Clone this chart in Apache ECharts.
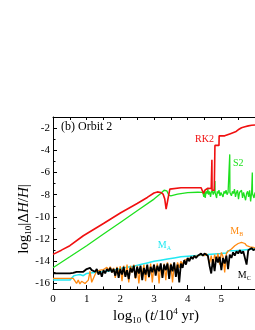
<!DOCTYPE html>
<html><head><meta charset="utf-8">
<script src="https://cdn.jsdelivr.net/npm/echarts@6/dist/echarts.min.js"></script>
<style>html,body{margin:0;padding:0;background:#fff}#c{width:255px;height:330px}</style>
</head><body><div id="c"></div>
<script>
// ---- data (log10 t/10^4 yr  vs  log10 |dH/H|) ----
const rk2X = [0,0.25,0.5,0.9,1.5,2.0,2.5,2.8,3.0,3.1,3.2,3.27,3.32,3.36,3.38,3.42,3.47,3.5,3.8,4.1,4.4,4.44,4.47,4.49,4.51,4.54,4.6,4.7,4.715,4.72,4.725,4.75,4.79,4.805,4.81,4.93,4.935,5.1,5.105,5.27,5.275,5.44,5.5,5.55,5.6,5.7,5.8,5.9,6.0];
const rk2Y = [-13.38,-13.0,-12.6,-11.7,-10.6,-9.65,-8.8,-8.25,-7.85,-7.75,-7.8,-7.95,-8.4,-9.3,-9.3,-8.3,-7.5,-7.4,-7.38,-7.37,-7.37,-7.45,-7.9,-7.95,-7.6,-7.42,-7.42,-7.45,-7.6,-4.85,-7.6,-7.55,-7.6,-7.7,-3.56,-3.56,-2.7,-2.7,-2.55,-2.5,-2.4,-2.3,-2.15,-2.05,-1.97,-1.88,-1.8,-1.75,-1.72];

const s2X = [0,0.5,1.0,1.5,2.0,2.5,3.0,3.2,3.3,3.34,3.38,3.44,3.5,3.7,4.0,4.3,4.45,
  4.48,4.5,4.52,4.55,4.58,4.6,4.62,4.65,4.68,4.7,4.73,4.76,4.79,4.805,4.81,4.815,4.83,4.86,4.88,4.9,
  4.93,4.96,4.99,5.02,5.05,5.08,5.11,5.14,5.17,5.2,5.23,5.245,5.25,5.255,5.27,5.3,5.33,5.36,5.39,5.42,
  5.45,5.48,5.51,5.54,5.57,5.6,5.63,5.66,5.69,5.72,5.75,5.78,5.81,5.84,5.87,5.9,5.915,5.92,5.925,5.94,5.97,6.0];
const s2Y = [-14.58,-13.6,-12.6,-11.55,-10.5,-9.45,-8.4,-7.9,-7.6,-7.48,-7.65,-8.05,-8.1,-7.95,-7.82,-7.78,-7.8,
  -8.2,-7.6,-8.3,-7.7,-7.9,-7.5,-8.0,-7.7,-8.2,-7.8,-7.6,-8.0,-7.7,-7.8,-6.77,-7.8,-7.8,-8.3,-7.7,-7.9,
  -7.6,-8.1,-7.8,-7.7,-8.2,-7.7,-7.9,-7.6,-8.0,-7.8,-7.7,-7.8,-4.37,-7.8,-7.8,-8.1,-7.7,-7.9,-7.5,-8.2,
  -7.8,-7.6,-8.4,-7.8,-7.9,-7.6,-8.3,-7.8,-7.7,-8.5,-7.9,-7.7,-8.2,-7.6,-8.6,-7.8,-7.9,-6.0,-7.9,-7.9,-8.3,-7.8];

const maX = [0,0.5,0.55,0.62,0.7,0.8,0.9,1.0,1.1,1.3,1.5,1.7,1.9,2.0,2.2,2.4,2.6,2.8,3.0,3.2,3.4,3.6,3.8,4.0,4.2,4.4,4.6,4.8,5.0,5.15,5.2,5.4,5.6,5.8,6.0];
const maY = [-15.7,-15.7,-15.65,-15.3,-15.25,-15.2,-15.3,-15.1,-15.05,-15.0,-14.95,-14.85,-14.75,-14.65,-14.55,-14.45,-14.3,-14.15,-14.0,-13.9,-13.8,-13.7,-13.6,-13.55,-13.5,-13.45,-13.4,-13.35,-13.3,-13.25,-13.05,-13.05,-13.0,-12.95,-12.9];

const lowX = [0,0.5,0.55,0.6,0.65,0.7,0.75,0.8,0.85,0.9,0.95,1.0,
  1.05,1.1,1.15,1.2,1.25,1.3,1.35,1.4,1.45,1.5,1.55,1.6,1.65,1.7,1.75,1.8,1.85,1.9,1.95,2.0,
  2.05,2.1,2.15,2.2,2.25,2.3,2.35,2.4,2.45,2.5,2.55,2.6,2.65,2.7,2.75,2.8,2.85,2.9,2.95,3.0,
  3.05,3.1,3.15,3.2,3.25,3.3,3.35,3.4,3.45,3.5,3.55,3.6,3.65,3.7,3.75,3.8,3.85,3.9,3.95,4.0,
  4.05,4.1,4.15,4.2,4.25,4.3,4.35,4.4,4.45,4.5,4.55,4.6,4.65,4.7,4.75,4.8,4.85,4.9,4.95,5.0,
  5.05,5.1,5.15,5.2,5.25,5.3,5.35,5.4,5.45,5.5,5.55,5.6,5.65,5.7,5.75,5.8,5.85,5.9,5.95,6.0];
const mcY = [-15.1,-15.1,-15.1,-15.05,-15.0,-14.95,-14.9,-14.95,-15.0,-14.95,-14.8,-14.7,
  -14.85,-14.6,-14.8,-14.7,-14.95,-14.7,-15.2,-14.9,-15.4,-14.8,-15.1,-14.7,-14.9,-14.6,-15.0,-14.7,-15.3,-14.6,-15.5,-14.7,
  -15.2,-14.5,-15.4,-14.8,-15.6,-14.6,-15.0,-14.4,-15.5,-14.5,-15.1,-14.4,-15.7,-14.6,-15.2,-14.3,-15.4,-14.5,-15.0,-14.3,
  -15.3,-14.4,-14.9,-14.2,-15.5,-14.3,-14.8,-14.2,-15.6,-14.3,-14.9,-14.1,-15.4,-14.3,-15.9,-14.2,-14.6,-13.9,-14.3,-13.7,
  -14.0,-13.6,-13.8,-13.5,-13.7,-13.5,-13.4,-13.3,-13.5,-13.3,-13.2,-13.5,-14.4,-15.1,-13.8,-14.9,-13.6,-14.1,-13.6,-14.8,
  -13.7,-14.2,-13.5,-14.7,-13.4,-13.7,-13.2,-13.5,-13.1,-13.3,-13.0,-13.3,-13.1,-13.2,-14.3,-13.0,-12.9,-12.8,-13.0,-12.9];
const mbY = [-15.55,-15.55,-15.55,-15.55,-15.6,-16.0,-15.7,-16.05,-15.8,-15.9,-16.0,-15.95,
  -15.7,-14.9,-15.9,-16.0,-15.2,-14.9,-14.85,-14.8,-14.7,-14.75,-14.6,-14.55,-14.8,-14.5,-15.0,-14.6,-15.5,-14.5,-15.1,-14.45,
  -15.8,-14.4,-15.3,-14.3,-15.9,-14.4,-15.0,-14.3,-15.6,-14.4,-16.0,-14.5,-15.2,-14.3,-15.8,-14.4,-15.5,-14.2,-15.9,-14.3,
  -15.0,-14.2,-16.0,-14.3,-15.4,-14.2,-15.7,-14.1,-15.1,-14.2,-15.9,-14.3,-15.0,-14.1,-14.6,-14.0,-14.3,-13.9,-13.85,-13.8,
  -13.75,-13.7,-13.65,-13.6,-13.55,-13.5,-13.45,-13.4,-13.45,-13.5,-13.3,-13.6,-14.2,-13.5,-14.5,-13.4,-13.9,-13.3,-14.3,-13.2,
  -13.6,-15.0,-13.3,-13.1,-13.0,-12.9,-12.8,-12.6,-12.7,-12.4,-12.5,-12.3,-12.35,-12.4,-12.6,-12.5,-12.7,-12.8,-12.75,-12.8];

const xTicks = [0,1,2,3,4,5];
const yMajorTicks = [-16,-14,-12,-10,-8,-6,-4,-2];
const yMinorTicks = [-15,-13,-11,-9,-7,-5,-3];

// label anchor points (data coords)
const lblRK2 = [4.5,-3.0], lblS2 = [5.5,-5.2], lblMA = [3.31,-12.6], lblMB = [5.46,-11.33], lblMC = [5.68,-15.27];

const pairs = (xs, ys) => xs.map((x, i) => [x, ys[i]]);
const F = 'Liberation Serif, Times New Roman, serif';

function mk(name, xs, ys, color, width, lbl, text, rich) {
  return {
    name, type: 'line', data: pairs(xs, ys), showSymbol: false, symbol: 'none',
    lineStyle: { color, width }, itemStyle: { color }, animation: false, silent: true,
    markPoint: {
      symbol: 'circle', symbolSize: 1, itemStyle: { color: 'rgba(0,0,0,0)' }, animation: false,
      data: [{ coord: lbl }],
      label: { show: true, position: 'inside', formatter: text, color, fontFamily: F, fontSize: 10, rich }
    }
  };
}
function subRich(color) {
  return {
    m: { fontFamily: F, fontSize: 10, color, lineHeight: 12 },
    s: { fontFamily: F, fontSize: 6, color, lineHeight: 3, verticalAlign: 'bottom' }
  };
}

const chart = echarts.init(document.getElementById('c'), null, { renderer: 'canvas' });
const axisCommon = {
  type: 'value', axisLine: { show: true, lineStyle: { color: '#000', width: 1 } },
  splitLine: { show: false }
};
chart.setOption({
  animation: false,
  backgroundColor: '#fff',
  grid: { left: 53, top: 117, width: 204, height: 172, containLabel: false },
  xAxis: [
    Object.assign({}, axisCommon, {
      min: 0, max: 6, interval: 1, position: 'bottom',
      axisTick: { show: true, inside: true, length: 4, lineStyle: { color: '#000' } },
      minorTick: { show: true, splitNumber: 2, length: 2.5, lineStyle: { color: '#000' } },
      axisLabel: { show: true, customValues: xTicks, margin: 5, color: '#000', fontFamily: F, fontSize: 11 }
    }),
    Object.assign({}, axisCommon, {
      min: 0, max: 6, interval: 1, position: 'top',
      axisTick: { show: true, inside: true, length: 3, lineStyle: { color: '#000' } },
      minorTick: { show: true, splitNumber: 2, length: 3, lineStyle: { color: '#000' } },
      axisLabel: { show: false }
    })
  ],
  yAxis: [
    Object.assign({}, axisCommon, {
      min: -16.5, max: -1, position: 'left',
      axisTick: { show: true, inside: true, length: 4, customValues: yMajorTicks, lineStyle: { color: '#000' } },
      axisLabel: { show: true, customValues: yMajorTicks, margin: 3, color: '#000', fontFamily: F, fontSize: 11 }
    }),
    Object.assign({}, axisCommon, {
      min: -16.5, max: -1, position: 'left', axisLine: { show: false },
      axisTick: { show: true, inside: true, length: 2.5, customValues: yMinorTicks, lineStyle: { color: '#000' } },
      axisLabel: { show: false }
    })
  ],
  series: [
    mk('MA', maX, maY, '#22e8f2', 1.5, lblMA, '{m|M}{s|A}', subRich('#22e8f2')),
    mk('MB', lowX, mbY, '#ff8a10', 1.3, lblMB, '{m|M}{s|B}', subRich('#ff8a10')),
    mk('MC', lowX, mcY, '#000000', 1.8, lblMC, '{m|M}{s|C}', subRich('#000000')),
    mk('S2', s2X, s2Y, '#1ee01e', 1.3, lblS2, 'S2', {}),
    mk('RK2', rk2X, rk2Y, '#f01010', 1.6, lblRK2, 'RK2', {})
  ],
  graphic: [
    { type: 'text', left: 61, top: 121, silent: true,
      style: { text: '(b) Orbit 2', fill: '#000', font: '12px ' + F } },
    { type: 'text', x: 156, y: 316, silent: true,
      style: {
        text: '{a|log}{s|10}{a| (}{i|t}{a|/10}{p|4}{a| yr)}', align: 'center', verticalAlign: 'middle',
        rich: {
          a: { fontFamily: F, fontSize: 15, fill: '#000', lineHeight: 18 },
          i: { fontFamily: F, fontSize: 15, fontStyle: 'italic', fill: '#000', lineHeight: 18 },
          s: { fontFamily: F, fontSize: 9, fill: '#000', lineHeight: 4, verticalAlign: 'bottom' },
          p: { fontFamily: F, fontSize: 9, fill: '#000', lineHeight: 12, verticalAlign: 'top' }
        }
      } },
    { type: 'text', x: 24, y: 219, rotation: Math.PI / 2, silent: true,
      style: {
        text: '{a|log}{s|10}{a||Δ}{i|H}{a|/}{i|H}{a||}', align: 'center', verticalAlign: 'middle',
        rich: {
          a: { fontFamily: F, fontSize: 15, fill: '#000', lineHeight: 18 },
          i: { fontFamily: F, fontSize: 15, fontStyle: 'italic', fill: '#000', lineHeight: 18 },
          s: { fontFamily: F, fontSize: 9, fill: '#000', lineHeight: 4, verticalAlign: 'bottom' }
        }
      } }
  ]
});
</script>
</body></html>
